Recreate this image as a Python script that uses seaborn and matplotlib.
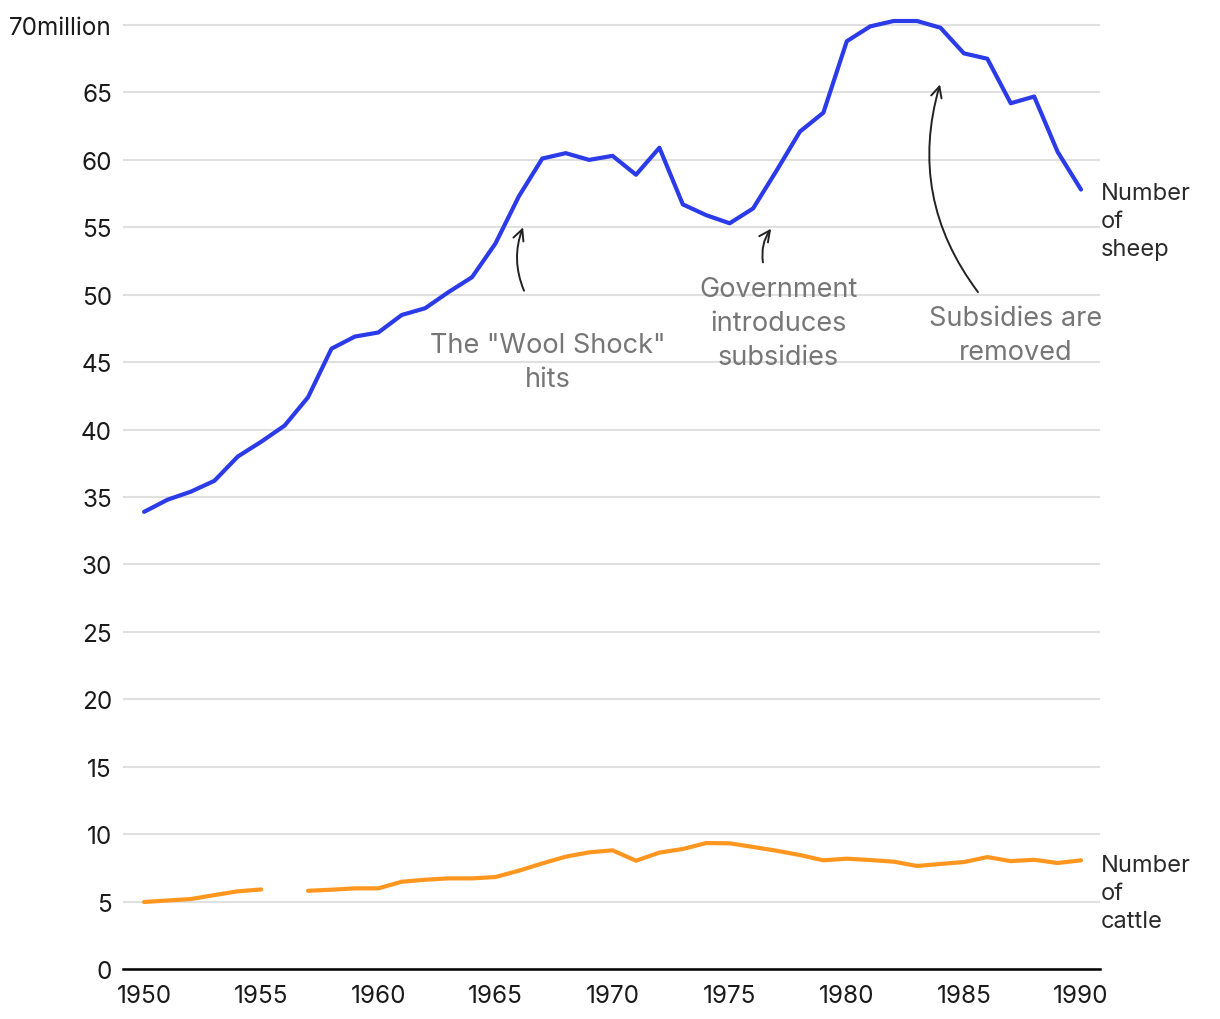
import numpy as np
import pandas as pd
import matplotlib
matplotlib.use("Agg")
import matplotlib.pyplot as plt
import seaborn as sns

years = list(range(1950, 1991))

# millions of head
sheep = [33.9, 34.8, 35.4, 36.2, 38.0, 39.1, 40.3, 42.4, 46.0, 46.9,
         47.2, 48.5, 49.0, 50.2, 51.3, 53.8, 57.3, 60.1, 60.5, 60.0,
         60.3, 58.9, 60.9, 56.7, 55.9, 55.3, 56.4, 59.2, 62.1, 63.5,
         68.8, 69.9, 70.3, 70.3, 69.8, 67.9, 67.5, 64.2, 64.7, 60.6,
         57.8]

# 1956 missing
cattle = [4.97, 5.08, 5.19, 5.48, 5.76, 5.9, np.nan, 5.8, 5.88, 5.98,
          5.98, 6.47, 6.62, 6.72, 6.72, 6.82, 7.29, 7.83, 8.33, 8.65,
          8.8, 8.03, 8.63, 8.9, 9.34, 9.32, 9.05, 8.77, 8.45, 8.06,
          8.18, 8.08, 7.96, 7.64, 7.79, 7.93, 8.3, 8.0, 8.1, 7.86,
          8.06]

y_ticks = [0, 5, 10, 15, 20, 25, 30, 35, 40, 45, 50, 55, 60, 65, 70]
y_labels = [str(t) for t in y_ticks[:-1]] + ["70million"]
x_ticks = [1950, 1955, 1960, 1965, 1970, 1975, 1980, 1985, 1990]

BLUE = "#2b3be8"
ORANGE = "#ff961f"
GREY = "#767676"


def to_long():
    rows = []
    for yr, v in zip(years, sheep):
        rows.append({"year": yr, "value": v, "animal": "sheep", "seg": "s0"})
    seg = 0
    for yr, v in zip(years, cattle):
        if np.isnan(v):
            seg += 1
            continue
        rows.append({"year": yr, "value": v, "animal": "cattle", "seg": f"c{seg}"})
    return pd.DataFrame(rows)


df = to_long()

sns.set_theme(style="white")
plt.rcParams["font.family"] = ["Inter", "DejaVu Sans"]

fig = plt.figure(figsize=(12.2, 10.2), dpi=100)
ax = fig.add_axes([123 / 1220, 50 / 1020, 977 / 1220, 960 / 1020])

sns.lineplot(data=df, x="year", y="value", hue="animal", units="seg",
             estimator=None, palette={"sheep": BLUE, "cattle": ORANGE},
             linewidth=3.0, legend=False, ax=ax)

ax.set_xlim(1949.1, 1990.81)
ax.set_ylim(0, 71.19)
ax.set_yticks(y_ticks)
ax.set_yticklabels(y_labels)
ax.set_xticks(x_ticks)
ax.set_xlabel("")
ax.set_ylabel("")
ax.grid(axis="y", color="#e0e0e0", linewidth=1.5)
ax.grid(axis="x", visible=False)
ax.set_axisbelow(True)
for s in ["left", "right", "top"]:
    ax.spines[s].set_visible(False)
ax.spines["bottom"].set_color("black")
ax.spines["bottom"].set_linewidth(1.8)
ax.tick_params(axis="y", length=0, pad=8, labelsize=17.5, labelcolor="#1a1a1a")
ax.tick_params(axis="x", length=0, pad=11, labelsize=17.5, labelcolor="#1a1a1a")

# annotations
ann_font = dict(fontsize=19.5, color=GREY, ha="center", va="center", linespacing=1.42)
arrow = dict(arrowstyle="->,head_length=0.65,head_width=0.32", color="#222222",
             lw=1.4, shrinkA=0, shrinkB=0)

ax.annotate("", xy=(1966.18, 55.0), xytext=(1966.22, 50.3),
            arrowprops=dict(arrow, connectionstyle="arc3,rad=-0.2"))
ax.text(1967.25, 45.0, 'The "Wool Shock"\nhits', **ann_font)

ax.annotate("", xy=(1976.77, 54.9), xytext=(1976.42, 52.4),
            arrowprops=dict(arrow, connectionstyle="arc3,rad=-0.2"))
ax.text(1977.07, 47.9, "Government\nintroduces\nsubsidies", **ann_font)

ax.annotate("", xy=(1983.98, 65.6), xytext=(1985.6, 50.2),
            arrowprops=dict(arrow, connectionstyle="arc3,rad=-0.25"))
ax.text(1987.22, 47.0, "Subsidies are\nremoved", **ann_font)

# series labels at the right end
lab = dict(fontsize=17, color="#2a2a2a", ha="left", va="center",
           linespacing=1.34, clip_on=False)
ax.text(1990.85, 55.47, "Number\nof\nsheep", **lab)
ax.text(1990.85, 5.64, "Number\nof\ncattle", **lab)

fig.savefig("out.png", dpi=100, facecolor="white")
